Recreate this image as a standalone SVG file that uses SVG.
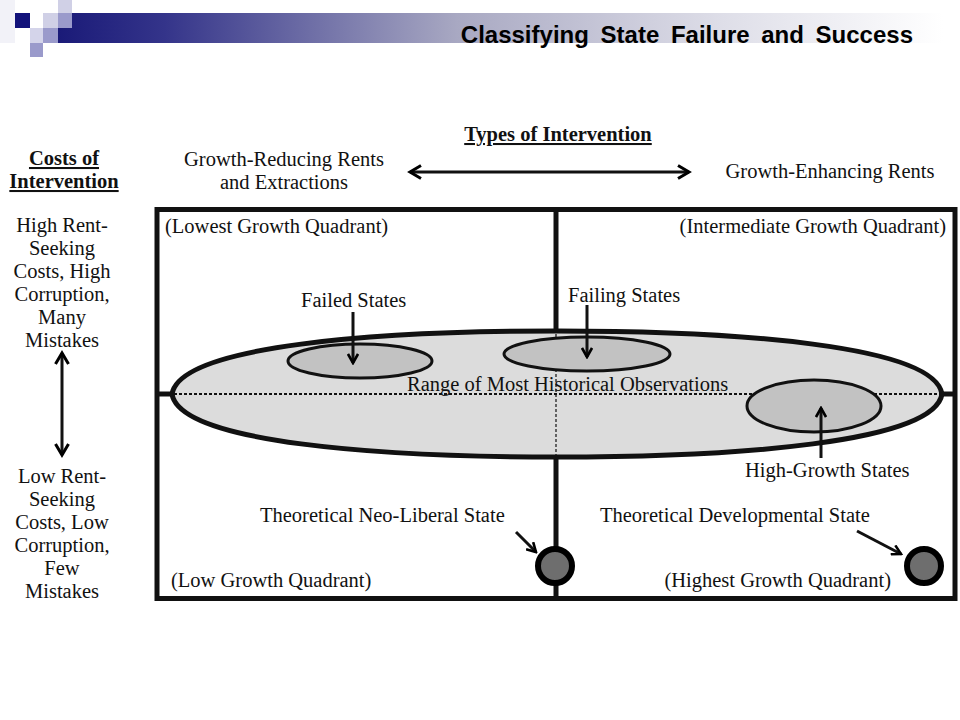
<svg xmlns="http://www.w3.org/2000/svg" width="960" height="720" viewBox="0 0 960 720">
<defs>
<linearGradient id="bar" x1="0" y1="0" x2="1" y2="0">
<stop offset="0" stop-color="#1a1a78"/>
<stop offset="0.12" stop-color="#34348a"/>
<stop offset="0.45" stop-color="#a8a8c2"/>
<stop offset="0.75" stop-color="#dedee8"/>
<stop offset="1" stop-color="#ffffff"/>
</linearGradient>
<marker id="chev" viewBox="0 0 12 12" refX="10" refY="6" markerWidth="12" markerHeight="12" markerUnits="userSpaceOnUse" orient="auto-start-reverse">
<path d="M1,1 L10,6 L1,11" fill="none" stroke="#000" stroke-width="2.6"/>
</marker>
<marker id="chevL" viewBox="0 0 16 16" refX="13" refY="8" markerWidth="16" markerHeight="16" markerUnits="userSpaceOnUse" orient="auto-start-reverse">
<path d="M2,1.5 L13,8 L2,14.5" fill="none" stroke="#000" stroke-width="3"/>
</marker>
</defs>
<style>
.t{font-family:"Liberation Serif","Times New Roman",serif;font-size:20.5px;fill:#111}
.b{font-weight:bold;text-decoration:underline}
.m{text-anchor:middle}
.e{text-anchor:end}
.title{font-family:"Liberation Sans",Arial,sans-serif;font-weight:bold;font-size:24px;word-spacing:5px;fill:#000;text-anchor:end}
.frame{fill:none;stroke:#111;stroke-width:5}
.div{stroke:#111;stroke-width:5;fill:none}
.dot{stroke:#111;fill:none;stroke-dasharray:3 2}
.lens{fill:#dcdcdc;stroke:#111;stroke-width:5}
.small{fill:#c2c2c2;stroke:#111;stroke-width:3}
.ball{fill:#6e6e6e;stroke:#000;stroke-width:6}
.arr{stroke:#111;stroke-width:3;fill:none}
</style>
<rect width="960" height="720" fill="#fff"/>
<g id="header">
<rect x="0" y="0" width="15" height="43" fill="#f2f2f8"/>
<rect x="58" y="13" width="885" height="30" fill="url(#bar)"/>
<rect x="15" y="13" width="15" height="15" fill="#12127a"/>
<rect x="43" y="13" width="15" height="15" fill="#d0d0e6"/>
<rect x="58" y="0" width="14" height="13" fill="#d0d0e6"/>
<rect x="58" y="13" width="14" height="15" fill="#9a9acb"/>
<rect x="30" y="28" width="13" height="15" fill="#d4d4ea"/>
<rect x="43" y="28" width="15" height="15" fill="#9a9acb"/>
<rect x="30" y="43" width="13" height="14" fill="#9a9acb"/>
<text class="title" x="913" y="43">Classifying State Failure and Success</text>
</g>
<g id="axis-top">
<text class="t b m" x="558" y="141">Types of Intervention</text>
<text class="t m" x="284" y="166">Growth-Reducing Rents</text>
<text class="t m" x="284" y="189">and Extractions</text>
<text class="t m" x="830" y="178">Growth-Enhancing Rents</text>
</g>
<g id="axis-left">
<text class="t b m" x="64" y="165">Costs of</text>
<text class="t b m" x="64" y="188">Intervention</text>
<text class="t m" x="62" y="232">High Rent-</text>
<text class="t m" x="62" y="255">Seeking</text>
<text class="t m" x="62" y="278">Costs, High</text>
<text class="t m" x="62" y="301">Corruption,</text>
<text class="t m" x="62" y="324">Many</text>
<text class="t m" x="62" y="347">Mistakes</text>
<text class="t m" x="62" y="483">Low Rent-</text>
<text class="t m" x="62" y="506">Seeking</text>
<text class="t m" x="62" y="529">Costs, Low</text>
<text class="t m" x="62" y="552">Corruption,</text>
<text class="t m" x="62" y="575">Few</text>
<text class="t m" x="62" y="598">Mistakes</text>
</g>
<g id="quadrants">
<rect class="frame" x="157" y="209.5" width="798" height="389"/>
<line class="div" x1="556" y1="209" x2="556" y2="335"/>
<line class="div" x1="556" y1="452" x2="556" y2="598"/>
<line class="div" x1="157" y1="394" x2="175" y2="394" stroke-width="4"/>
<line class="div" x1="940" y1="394" x2="955" y2="394" stroke-width="4"/>
<text class="t" x="165" y="233">(Lowest Growth Quadrant)</text>
<text class="t e" x="946" y="233">(Intermediate Growth Quadrant)</text>
<text class="t" x="171" y="587">(Low Growth Quadrant)</text>
<text class="t e" x="891" y="587">(Highest Growth Quadrant)</text>
</g>
<g id="historical-range">
<path class="lens" d="M172,394 C180,345 380,331 557,331 C734,331 934,345 942,394 C934,443 734,457 557,457 C380,457 180,443 172,394 Z"/>
<line class="dot" x1="174" y1="394" x2="940" y2="394" stroke-width="2.2"/>
<line class="dot" x1="556" y1="334" x2="556" y2="455" stroke-width="1.2"/>
<text class="t" x="407" y="391">Range of Most Historical Observations</text>
</g>
<g id="failed-states">
<ellipse class="small" cx="360" cy="361" rx="72" ry="17"/>
<text class="t" x="301" y="307">Failed States</text>
</g>
<g id="failing-states">
<ellipse class="small" cx="587" cy="354" rx="83" ry="17"/>
<text class="t" x="568" y="302">Failing States</text>
</g>
<g id="high-growth-states">
<ellipse class="small" cx="814" cy="406" rx="67" ry="26"/>
<text class="t" x="745" y="477">High-Growth States</text>
</g>
<g id="neo-liberal-state">
<circle class="ball" cx="555" cy="566" r="17"/>
<text class="t" x="260" y="522">Theoretical Neo-Liberal State</text>
</g>
<g id="developmental-state">
<circle class="ball" cx="924" cy="566" r="17"/>
<text class="t" x="600" y="522">Theoretical Developmental State</text>
</g>
<g id="connectors">
<line class="arr" x1="410" y1="172" x2="689" y2="172" marker-start="url(#chevL)" marker-end="url(#chevL)"/>
<line class="arr" x1="62" y1="353" x2="62" y2="455" marker-start="url(#chevL)" marker-end="url(#chevL)"/>
<line class="arr" x1="353" y1="312" x2="353" y2="363" marker-end="url(#chev)"/>
<line class="arr" x1="587" y1="305" x2="587" y2="357" marker-end="url(#chev)"/>
<line class="arr" x1="821" y1="458" x2="821" y2="408" marker-end="url(#chev)"/>
<line class="arr" x1="516" y1="532" x2="536" y2="552" marker-end="url(#chev)"/>
<line class="arr" x1="857" y1="531" x2="901" y2="554" marker-end="url(#chev)"/>
</g>
</svg>
